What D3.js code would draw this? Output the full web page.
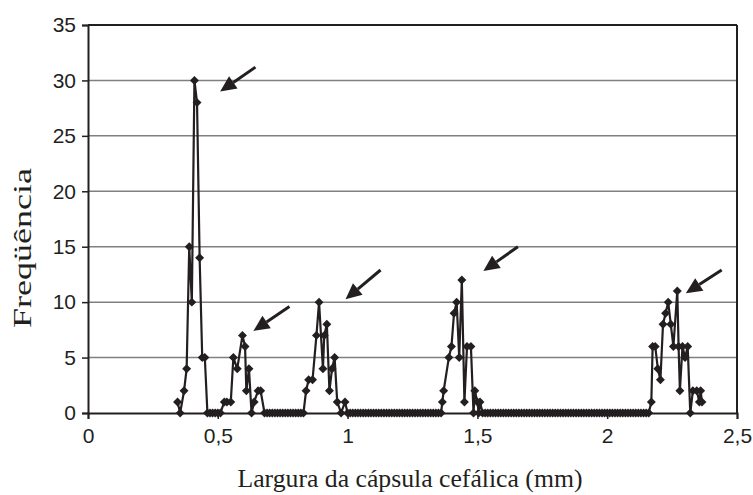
<!DOCTYPE html>
<html>
<head>
<meta charset="utf-8">
<script src="https://cdn.jsdelivr.net/npm/d3@7"></script>
<style>
  body { margin: 0; background: #fff; }
  svg { display: block; }
</style>
</head>
<body>
<svg id="chart" width="753" height="495"></svg>
<script>
// largura da cápsula (mm) e frequência observada
var larguras = [
  0.345, 0.355, 0.37, 0.38, 0.39, 0.40, 0.41, 0.42, 0.43, 0.44, 0.45,
  0.46, 0.47, 0.48, 0.49, 0.50, 0.51,
  0.525, 0.535, 0.55, 0.56, 0.575, 0.595, 0.605, 0.61, 0.62, 0.63, 0.64, 0.655, 0.665,
  0.68, 0.69, 0.70, 0.71, 0.72, 0.73, 0.74, 0.75, 0.76, 0.77, 0.78, 0.79, 0.80, 0.81, 0.82, 0.83,
  0.84, 0.85, 0.865, 0.88, 0.89, 0.905, 0.91, 0.92, 0.93, 0.94, 0.95, 0.96, 0.975, 0.99,
  1.00, 1.01, 1.02, 1.03, 1.04, 1.05, 1.06, 1.07, 1.08, 1.09, 1.10, 1.11, 1.12, 1.13, 1.14, 1.15,
  1.16, 1.17, 1.18, 1.19, 1.20, 1.21, 1.22, 1.23, 1.24, 1.25, 1.26, 1.27, 1.28, 1.29, 1.30, 1.31,
  1.32, 1.33, 1.34, 1.35, 1.36,
  1.365, 1.37, 1.39, 1.40, 1.41, 1.42, 1.43, 1.44, 1.45, 1.46, 1.475, 1.485, 1.49, 1.50, 1.505, 1.51,
  1.52, 1.53, 1.54, 1.55, 1.56, 1.57, 1.58, 1.59, 1.60, 1.61, 1.62, 1.63, 1.64, 1.65, 1.66, 1.67,
  1.68, 1.69, 1.70, 1.71, 1.72, 1.73, 1.74, 1.75, 1.76, 1.77, 1.78, 1.79, 1.80, 1.81, 1.82, 1.83,
  1.84, 1.85, 1.86, 1.87, 1.88, 1.89, 1.90, 1.91, 1.92, 1.93, 1.94, 1.95, 1.96, 1.97, 1.98, 1.99,
  2.00, 2.01, 2.02, 2.03, 2.04, 2.05, 2.06, 2.07, 2.08, 2.09, 2.10, 2.11, 2.12, 2.13, 2.14, 2.15, 2.16,
  2.17, 2.175, 2.185, 2.195, 2.205, 2.215, 2.225, 2.235, 2.245, 2.255, 2.27, 2.275, 2.28, 2.29, 2.30,
  2.31, 2.32, 2.33, 2.345, 2.355, 2.36, 2.365
];
var frequencias = [
  1, 0, 2, 4, 15, 10, 30, 28, 14, 5, 5,
  0, 0, 0, 0, 0, 0,
  1, 1, 1, 5, 4, 7, 6, 2, 4, 0, 1, 2, 2,
  0, 0, 0, 0, 0, 0, 0, 0, 0, 0, 0, 0, 0, 0, 0, 0,
  2, 3, 3, 7, 10, 4, 7, 8, 2, 4, 5, 1, 0, 1,
  0, 0, 0, 0, 0, 0, 0, 0, 0, 0, 0, 0, 0, 0, 0, 0,
  0, 0, 0, 0, 0, 0, 0, 0, 0, 0, 0, 0, 0, 0, 0, 0,
  0, 0, 0, 0, 0,
  1, 2, 5, 6, 9, 10, 5, 12, 1, 6, 6, 0, 2, 1, 0, 1,
  0, 0, 0, 0, 0, 0, 0, 0, 0, 0, 0, 0, 0, 0, 0, 0,
  0, 0, 0, 0, 0, 0, 0, 0, 0, 0, 0, 0, 0, 0, 0, 0,
  0, 0, 0, 0, 0, 0, 0, 0, 0, 0, 0, 0, 0, 0, 0, 0,
  0, 0, 0, 0, 0, 0, 0, 0, 0, 0, 0, 0, 0, 0, 0, 0, 0,
  1, 6, 6, 4, 3, 8, 9, 10, 8, 6, 11, 6, 2, 6, 5,
  6, 0, 2, 2, 1, 2, 1
];
var xTicks = [0, 0.5, 1, 1.5, 2, 2.5];
var yTicks = [0, 5, 10, 15, 20, 25, 30, 35];
// setas (ponta e cauda em unidades dos eixos)
var setaPonta = [[0.509, 29.0], [0.637, 7.4], [0.992, 10.25], [1.523, 12.8], [2.303, 10.8]];
var setaCauda = [[0.645, 31.2], [0.776, 9.6], [1.127, 12.9], [1.656, 15.0], [2.441, 12.9]];

var mLeft = 88, mRight = 737, mTop = 25, mBottom = 413;
var svg = d3.select("#chart");
var tinta = "#231f20";

var x = d3.scaleLinear().domain([0, 2.5]).range([mLeft, mRight]);
var y = d3.scaleLinear().domain([0, 35]).range([mBottom, mTop]);

var fmt = function(d) { return String(d).replace(".", ","); };

// grade horizontal
svg.append("g").selectAll("line")
  .data(yTicks.filter(function(d) { return d > 0 && d < 35; }))
  .enter().append("line")
  .attr("x1", mLeft).attr("x2", mRight)
  .attr("y1", function(d) { return y(d); }).attr("y2", function(d) { return y(d); })
  .attr("stroke", "#808080").attr("stroke-width", 1.5);

// moldura topo e direita
svg.append("line").attr("x1", mLeft).attr("x2", mRight).attr("y1", y(35)).attr("y2", y(35))
  .attr("stroke", tinta).attr("stroke-width", 2);
svg.append("line").attr("x1", mRight).attr("x2", mRight).attr("y1", y(35)).attr("y2", y(0))
  .attr("stroke", tinta).attr("stroke-width", 2);

var xAxis = svg.append("g").attr("transform", "translate(0," + mBottom + ")")
  .call(d3.axisBottom(x).tickValues(xTicks).tickFormat(fmt).tickSizeOuter(0).tickSize(6).tickPadding(9));
var yAxis = svg.append("g").attr("transform", "translate(" + mLeft + ",0)")
  .call(d3.axisLeft(y).tickValues(yTicks).tickSizeOuter(0).tickSize(6).tickPadding(6));

[xAxis, yAxis].forEach(function(g) {
  g.select(".domain").attr("stroke", tinta).attr("stroke-width", 2);
  g.selectAll(".tick line").attr("stroke", tinta).attr("stroke-width", 1.5);
  g.selectAll(".tick text").attr("fill", tinta)
    .style("font-family", "'Liberation Sans', Arial, sans-serif").style("font-size", "21px");
});

// série
var pontos = larguras.map(function(w, i) { return { x: w, y: frequencias[i] }; });
var linha = d3.line().x(function(d) { return x(d.x); }).y(function(d) { return y(d.y); });
svg.append("path").datum(pontos)
  .attr("d", linha).attr("fill", "none")
  .attr("stroke", tinta).attr("stroke-width", 2.2).attr("stroke-linejoin", "round");

var diamante = d3.symbol().type(d3.symbolSquare).size(40);
svg.append("g").selectAll("path")
  .data(pontos).enter().append("path")
  .attr("d", diamante)
  .attr("transform", function(d) { return "translate(" + x(d.x) + "," + y(d.y) + ") rotate(45)"; })
  .attr("fill", tinta);

// setas
setaPonta.forEach(function(p, i) {
  var c = setaCauda[i];
  var x1 = x(c[0]), y1 = y(c[1]), x2 = x(p[0]), y2 = y(p[1]);
  var ang = Math.atan2(y2 - y1, x2 - x1);
  var len = 16, half = 7.5;
  var bx = x2 - len * Math.cos(ang), by = y2 - len * Math.sin(ang);
  svg.append("line").attr("x1", x1).attr("y1", y1).attr("x2", bx).attr("y2", by)
    .attr("stroke", tinta).attr("stroke-width", 3);
  var pts = [
    [x2, y2],
    [bx + half * Math.sin(ang), by - half * Math.cos(ang)],
    [bx - half * Math.sin(ang), by + half * Math.cos(ang)]
  ];
  svg.append("path").attr("d", "M" + pts.join("L") + "Z").attr("fill", tinta);
});

// títulos dos eixos
svg.append("text")
  .attr("x", 410).attr("y", 487)
  .attr("text-anchor", "middle")
  .attr("textLength", 345).attr("lengthAdjust", "spacingAndGlyphs")
  .style("font-family", "'Liberation Serif', 'Times New Roman', serif").style("font-size", "25px")
  .attr("fill", tinta)
  .text("Largura da cápsula cefálica (mm)");

svg.append("text")
  .attr("transform", "translate(31,248) rotate(-90)")
  .attr("text-anchor", "middle")
  .attr("textLength", 160).attr("lengthAdjust", "spacingAndGlyphs")
  .style("font-family", "'Liberation Serif', 'Times New Roman', serif").style("font-size", "25px")
  .attr("fill", tinta)
  .text("Freqüência");
</script>
</body>
</html>
